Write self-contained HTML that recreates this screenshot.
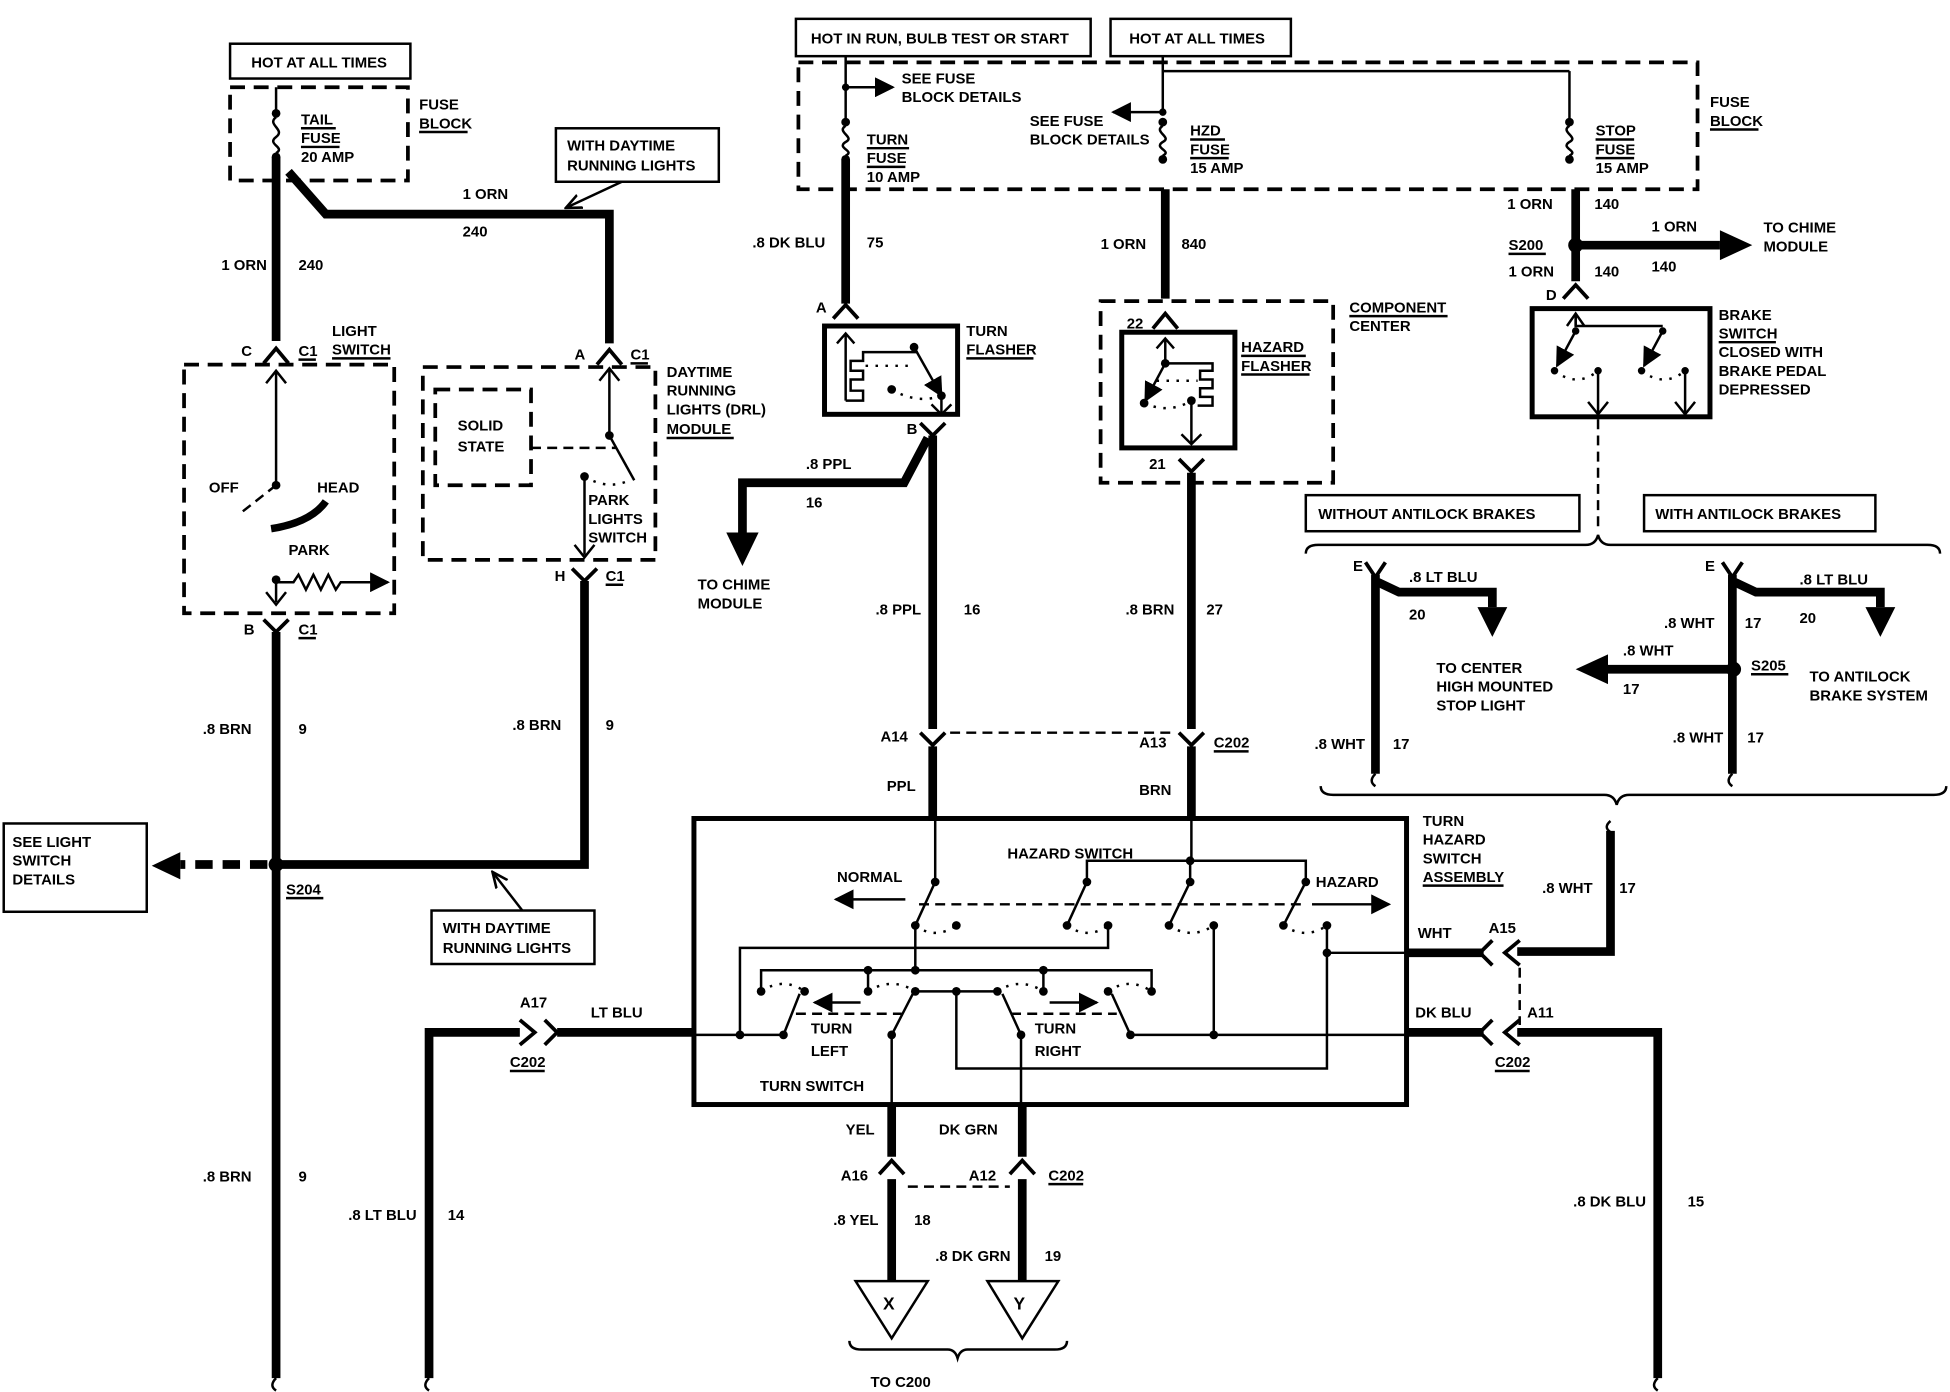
<!DOCTYPE html>
<html><head><meta charset="utf-8"><style>
html,body{margin:0;padding:0;background:#fff}
svg{display:block}
text{font-family:"Liberation Sans",sans-serif;font-weight:bold;font-size:12px;fill:#000}
.k{stroke:#000;fill:none;stroke-width:7}
.n{stroke:#000;fill:none;stroke-width:2}
.m{stroke:#000;fill:none;stroke-width:3}
.d{stroke:#000;fill:none;stroke-width:3;stroke-dasharray:12,7}
.dt{stroke:#000;fill:none;stroke-width:2;stroke-dasharray:2,6}
.dd{stroke:#000;fill:none;stroke-width:2;stroke-dasharray:8,5}
.b{stroke:#000;fill:#fff;stroke-width:2}
.s{stroke:#000;fill:none;stroke-width:4}
</style></head><body>
<svg width="1950" height="1392" viewBox="0 0 1568 1119" xmlns="http://www.w3.org/2000/svg">
<defs>
<marker id="ah" viewBox="0 0 10 10" refX="9" refY="5" markerWidth="8" markerHeight="8" orient="auto-start-reverse"><path d="M0,0 L10,5 L0,10 z" fill="#000"/></marker>
<marker id="ao" viewBox="0 0 10 10" refX="9" refY="5" markerWidth="7" markerHeight="7" orient="auto"><path d="M0,1 L9,5 L0,9" fill="none" stroke="#000" stroke-width="1.5"/></marker>
</defs>
<rect width="1568" height="1119" fill="#fff"/>

<!-- ========== LEFT SECTION ========== -->
<rect class="b" x="185" y="35" width="145" height="28"/>
<text x="202" y="54">HOT AT ALL TIMES</text>
<rect class="d" x="185" y="70" width="143" height="75"/>
<text x="337" y="88">FUSE</text><text x="337" y="103">BLOCK</text>
<line class="n" x1="337" y1="106" x2="376" y2="106"/>
<line class="n" x1="222" y1="70" x2="222" y2="90"/>
<circle cx="222" cy="91" r="3.5"/><circle cx="222" cy="126" r="3.5"/>
<path class="n" d="M222,94 c-8,6 8,10 0,16 c-8,6 8,8 0,13"/>
<text x="242" y="100">TAIL</text><text x="242" y="115">FUSE</text><text x="242" y="130">20 AMP</text>
<line class="n" x1="242" y1="103" x2="270" y2="103"/><line class="n" x1="242" y1="118" x2="273" y2="118"/>
<path class="k" d="M222,126 V274"/>
<path class="k" d="M232,138 L262,172 H490 V276"/>
<rect class="b" x="447" y="103" width="131" height="43"/>
<text x="456" y="121">WITH DAYTIME</text><text x="456" y="137">RUNNING LIGHTS</text>
<line class="n" x1="500" y1="146" x2="455" y2="167" marker-end="url(#ao)"/>
<text x="372" y="160">1 ORN</text><text x="372" y="190">240</text>
<text x="178" y="217">1 ORN</text><text x="240" y="217">240</text>
<!-- connectors C and A -->
<path class="m" d="M212,292 L222,280 L232,292"/>
<text x="194" y="286">C</text><text x="240" y="286">C1</text><line class="n" x1="240" y1="289" x2="254" y2="289"/>
<path class="m" d="M480,293 L490,281 L500,293"/>
<text x="462" y="289">A</text><text x="507" y="289">C1</text><line class="n" x1="507" y1="292" x2="521" y2="292"/>
<!-- light switch -->
<rect class="d" x="148" y="293" width="169" height="200"/>
<text x="267" y="270">LIGHT</text><text x="267" y="285">SWITCH</text><line class="n" x1="267" y1="288" x2="314" y2="288"/>
<line class="n" x1="222" y1="298" x2="222" y2="390"/>
<path class="n" d="M214,308 L222,298 L230,308"/>
<circle cx="222" cy="390" r="3.5"/>
<line class="dd" x1="222" y1="390" x2="194" y2="412"/>
<text x="168" y="396">OFF</text><text x="255" y="396">HEAD</text>
<path d="M218,425 Q250,420 262,403" stroke="#000" stroke-width="6" fill="none"/>
<text x="232" y="446">PARK</text>
<circle cx="222" cy="466" r="3.5"/>
<line class="n" x1="222" y1="466" x2="222" y2="484"/>
<path class="n" d="M214,476 L222,486 L230,476"/>
<path class="n" d="M222,468 H236 l4,-6 l6,12 l6,-12 l6,12 l6,-12 l6,12 l4,-6 H312" marker-end="url(#ah)"/>
<path class="m" d="M212,498 L222,508 L232,498"/>
<text x="196" y="510">B</text><text x="240" y="510">C1</text><line class="n" x1="240" y1="513" x2="254" y2="513"/>
<path class="k" d="M222,508 V1108"/>
<path class="n" d="M222,1108 q-6,6 0,10"/>
<text x="163" y="590">.8 BRN</text><text x="240" y="590">9</text>
<circle cx="222" cy="695" r="6"/>
<line x1="215" y1="695" x2="145" y2="695" stroke="#000" stroke-width="7" stroke-dasharray="14,8"/>
<path d="M145,685 L122,696 L145,707 z" fill="#000"/>
<rect class="b" x="3" y="662" width="115" height="71"/>
<text x="10" y="681">SEE LIGHT</text><text x="10" y="696">SWITCH</text><text x="10" y="711">DETAILS</text>
<text x="230" y="719">S204</text><line class="n" x1="230" y1="722" x2="260" y2="722"/>
<text x="163" y="950">.8 BRN</text><text x="240" y="950">9</text>
<!-- DRL module -->
<rect class="d" x="340" y="295" width="187" height="155"/>
<text x="536" y="303">DAYTIME</text><text x="536" y="318">RUNNING</text><text x="536" y="333">LIGHTS (DRL)</text><text x="536" y="349">MODULE</text>
<line class="n" x1="536" y1="352" x2="590" y2="352"/>
<rect class="d" x="350" y="313" width="77" height="77"/>
<text x="368" y="346">SOLID</text><text x="368" y="363">STATE</text>
<line class="n" x1="490" y1="296" x2="490" y2="350"/>
<path class="n" d="M482,306 L490,296 L498,306"/>
<circle cx="490" cy="350" r="3.5"/>
<line class="n" x1="490" y1="350" x2="510" y2="386"/>
<line class="dd" x1="427" y1="360" x2="496" y2="360"/>
<circle cx="470" cy="383" r="3.5"/>
<path class="dt" d="M470,383 Q490,395 508,385"/>
<text x="473" y="406">PARK</text><text x="473" y="421">LIGHTS</text><text x="473" y="436">SWITCH</text>
<line class="n" x1="470" y1="383" x2="470" y2="446"/>
<path class="n" d="M462,438 L470,448 L478,438"/>
<path class="m" d="M460,457 L470,467 L480,457"/>
<text x="446" y="467">H</text><text x="487" y="467">C1</text><line class="n" x1="487" y1="470" x2="501" y2="470"/>
<path class="k" d="M470,467 V695 H226"/>
<text x="412" y="587">.8 BRN</text><text x="487" y="587">9</text>
<rect class="b" x="347" y="732" width="131" height="43"/>
<text x="356" y="750">WITH DAYTIME</text><text x="356" y="766">RUNNING LIGHTS</text>
<line class="n" x1="420" y1="732" x2="396" y2="701" marker-end="url(#ao)"/>

<!-- ========== TOP MIDDLE ========== -->
<rect class="b" x="640" y="15" width="237" height="30"/>
<text x="652" y="35">HOT IN RUN,  BULB TEST OR START</text>
<rect class="b" x="893" y="15" width="145" height="30"/>
<text x="908" y="35">HOT AT ALL TIMES</text>
<rect class="d" x="642" y="50" width="723" height="102"/>
<text x="1375" y="86">FUSE</text><text x="1375" y="101">BLOCK</text><line class="n" x1="1375" y1="104" x2="1414" y2="104"/>
<!-- turn fuse -->
<line class="n" x1="680" y1="45" x2="680" y2="98"/>
<circle cx="680" cy="70" r="3"/>
<line class="n" x1="680" y1="70" x2="718" y2="70" marker-end="url(#ah)"/>
<text x="725" y="67">SEE FUSE</text><text x="725" y="82">BLOCK DETAILS</text>
<circle cx="680" cy="98" r="3.5"/><circle cx="680" cy="128" r="3.5"/>
<path class="n" d="M680,101 c-8,5 8,9 0,13 c-8,5 8,7 0,11"/>
<text x="697" y="116">TURN</text><text x="697" y="131">FUSE</text><text x="697" y="146">10 AMP</text>
<line class="n" x1="697" y1="119" x2="731" y2="119"/><line class="n" x1="697" y1="134" x2="728" y2="134"/>
<!-- hzd/stop fuse -->
<line class="n" x1="935" y1="45" x2="935" y2="90"/>
<line class="n" x1="935" y1="57" x2="1262" y2="57"/>
<line class="n" x1="1262" y1="57" x2="1262" y2="95"/>
<circle cx="935" cy="90" r="3"/>
<line class="n" x1="935" y1="90" x2="895" y2="90" marker-end="url(#ah)"/>
<text x="828" y="101">SEE FUSE</text><text x="828" y="116">BLOCK DETAILS</text>
<circle cx="935" cy="98" r="3.5"/><circle cx="935" cy="128" r="3.5"/>
<path class="n" d="M935,101 c-8,5 8,9 0,13 c-8,5 8,7 0,11"/>
<text x="957" y="109">HZD</text><text x="957" y="124">FUSE</text><text x="957" y="139">15 AMP</text>
<line class="n" x1="957" y1="112" x2="985" y2="112"/><line class="n" x1="957" y1="127" x2="988" y2="127"/>
<circle cx="1262" cy="98" r="3.5"/><circle cx="1262" cy="128" r="3.5"/>
<path class="n" d="M1262,101 c-8,5 8,9 0,13 c-8,5 8,7 0,11"/>
<text x="1283" y="109">STOP</text><text x="1283" y="124">FUSE</text><text x="1283" y="139">15 AMP</text>
<line class="n" x1="1283" y1="112" x2="1314" y2="112"/><line class="n" x1="1283" y1="127" x2="1314" y2="127"/>

<!-- turn flasher branch -->
<path class="k" d="M680,128 V244"/>
<text x="605" y="199">.8 DK BLU</text><text x="697" y="199">75</text>
<path class="m" d="M670,256 L680,245 L690,256"/>
<text x="656" y="251">A</text>
<rect x="663" y="262" width="107" height="71" fill="none" stroke="#000" stroke-width="4"/>
<text x="777" y="270">TURN</text><text x="777" y="285">FLASHER</text><line class="n" x1="777" y1="288" x2="831" y2="288"/>
<line class="n" x1="680" y1="268" x2="680" y2="322"/><path class="n" d="M673,276 L680,268 L687,276"/>
<path class="n" d="M680,322 H694 V314 H684 V305 H694 V298 H684 V290 H694 V283 H738"/>
<circle cx="735" cy="279" r="3.5"/><circle cx="717" cy="313" r="3.5"/><circle cx="757" cy="318" r="3.5"/>
<line class="n" x1="735" y1="279" x2="757" y2="318" marker-end="url(#ah)"/>
<path class="dt" d="M696,294 H735"/><path class="dt" d="M717,313 Q737,325 757,318"/>
<line class="n" x1="757" y1="318" x2="757" y2="333"/><path class="n" d="M749,325 L757,333 L765,325"/>
<path class="m" d="M740,340 L750,350 L760,340"/>
<text x="729" y="349">B</text>
<path class="k" d="M750,350 V586"/>
<path class="k" d="M746,352 L727,388 H597 V428"/>
<path d="M584,428 L610,428 L597,455 z" fill="#000"/>
<text x="648" y="377">.8 PPL</text><text x="648" y="408">16</text>
<text x="561" y="474">TO CHIME</text><text x="561" y="489">MODULE</text>
<text x="704" y="494">.8 PPL</text><text x="775" y="494">16</text>
<path class="m" d="M740,589 L750,599 L760,589"/>
<text x="708" y="596">A14</text>
<path class="k" d="M750,600 V660"/>
<text x="713" y="636">PPL</text>
<line class="dd" x1="764" y1="589" x2="946" y2="589"/>

<!-- hazard flasher branch -->
<path class="k" d="M937,152 V240"/>
<text x="885" y="200">1 ORN</text><text x="950" y="200">840</text>
<rect class="d" x="885" y="242" width="187" height="146"/>
<text x="1085" y="251">COMPONENT</text><text x="1085" y="266">CENTER</text>
<line class="n" x1="1085" y1="254" x2="1164" y2="254"/>
<path class="m" d="M927,264 L937,252 L947,264"/>
<text x="906" y="264">22</text>
<rect x="902" y="267" width="91" height="93" fill="none" stroke="#000" stroke-width="4"/>
<text x="998" y="283">HAZARD</text><text x="998" y="298">FLASHER</text>
<line class="n" x1="998" y1="286" x2="1050" y2="286"/><line class="n" x1="998" y1="301" x2="1053" y2="301"/>
<line class="n" x1="937" y1="272" x2="937" y2="292"/><path class="n" d="M930,280 L937,272 L944,280"/>
<circle cx="937" cy="292" r="3.5"/><circle cx="920" cy="324" r="3.5"/><circle cx="958" cy="322" r="3.5"/>
<line class="n" x1="937" y1="292" x2="921" y2="322" marker-end="url(#ah)"/>
<path class="n" d="M937,292 H975 V298 H965 V305 H975 V312 H965 V319 H975 V326 H963"/>
<path class="dt" d="M930,306 H963"/><path class="dt" d="M920,324 Q940,333 958,322"/>
<line class="n" x1="958" y1="322" x2="958" y2="357"/><path class="n" d="M950,349 L958,357 L966,349"/>
<path class="m" d="M948,369 L958,379 L968,369"/>
<text x="924" y="377">21</text>
<path class="k" d="M958,380 V586"/>
<text x="905" y="494">.8 BRN</text><text x="970" y="494">27</text>
<path class="m" d="M948,589 L958,599 L968,589"/>
<text x="916" y="601">A13</text><text x="976" y="601">C202</text><line class="n" x1="976" y1="604" x2="1004" y2="604"/>
<path class="k" d="M958,600 V660"/>
<text x="916" y="639">BRN</text>

<!-- stop / brake -->
<path class="k" d="M1267,152 V226"/>
<text x="1212" y="168">1 ORN</text><text x="1282" y="168">140</text>
<circle cx="1267" cy="197" r="6"/>
<text x="1213" y="201">S200</text><line class="n" x1="1213" y1="204" x2="1243" y2="204"/>
<path class="k" d="M1270,197 H1383"/>
<path d="M1383,185 L1409,197 L1383,209 z" fill="#000"/>
<text x="1328" y="186">1 ORN</text><text x="1328" y="218">140</text>
<text x="1418" y="187">TO CHIME</text><text x="1418" y="202">MODULE</text>
<text x="1213" y="222">1 ORN</text><text x="1282" y="222">140</text>
<path class="m" d="M1257,240 L1267,229 L1277,240"/>
<text x="1243" y="241">D</text>
<rect x="1232" y="248" width="143" height="87" fill="none" stroke="#000" stroke-width="4"/>
<text x="1382" y="257">BRAKE</text><text x="1382" y="272">SWITCH</text>
<line class="n" x1="1382" y1="275" x2="1428" y2="275"/>
<text x="1382" y="287">CLOSED WITH</text><text x="1382" y="302">BRAKE PEDAL</text><text x="1382" y="317">DEPRESSED</text>
<path class="n" d="M1267,252 V262 H1337 V262"/>
<path class="n" d="M1267,252 L1267,262"/>
<path class="n" d="M1260,262 L1267,252 L1274,262"/>
<circle cx="1267" cy="266" r="3"/><circle cx="1337" cy="266" r="3"/>
<line class="n" x1="1267" y1="266" x2="1252" y2="294" marker-end="url(#ah)"/>
<line class="n" x1="1337" y1="266" x2="1322" y2="294" marker-end="url(#ah)"/>
<circle cx="1250" cy="298" r="3"/><circle cx="1285" cy="298" r="3"/>
<circle cx="1320" cy="298" r="3"/><circle cx="1355" cy="298" r="3"/>
<path class="dt" d="M1250,298 Q1268,312 1285,298"/><path class="dt" d="M1320,298 Q1338,312 1355,298"/>
<line class="n" x1="1285" y1="298" x2="1285" y2="333"/><line class="n" x1="1355" y1="298" x2="1355" y2="333"/>
<path class="n" d="M1277,323 L1285,333 L1293,323"/><path class="n" d="M1347,323 L1355,333 L1363,323"/>
<line class="dd" x1="1285" y1="337" x2="1285" y2="428"/>
<rect class="b" x="1050" y="398" width="220" height="29"/>
<text x="1060" y="417">WITHOUT ANTILOCK BRAKES</text>
<rect class="b" x="1322" y="398" width="186" height="29"/>
<text x="1331" y="417">WITH ANTILOCK BRAKES</text>
<path class="n" d="M1050,445 q0,-7 10,-7 H1275 q8,0 10,-8 q2,8 10,8 H1550 q10,0 10,7"/>
<path class="n" d="M1062,632 q0,7 10,7 H1290 q8,0 10,8 q2,-8 10,-8 H1555 q10,0 10,-7"/>
<!-- without antilock -->
<path class="m" d="M1098,452 L1106,464 L1114,452"/>
<text x="1088" y="459">E</text>
<path class="k" d="M1106,462 V622"/>
<path class="n" d="M1106,622 q-6,6 0,10"/>
<path class="k" d="M1108,468 L1125,476 H1200 V488"/>
<path d="M1188,488 L1212,488 L1200,512 z" fill="#000"/>
<text x="1133" y="468">.8 LT BLU</text><text x="1133" y="498">20</text>
<text x="1155" y="541">TO CENTER</text><text x="1155" y="556">HIGH MOUNTED</text><text x="1155" y="571">STOP LIGHT</text>
<text x="1057" y="602">.8 WHT</text><text x="1120" y="602">17</text>
<!-- with antilock -->
<path class="m" d="M1385,452 L1393,464 L1401,452"/>
<text x="1371" y="459">E</text>
<path class="k" d="M1393,462 V622"/>
<path class="n" d="M1393,622 q-6,6 0,10"/>
<path class="k" d="M1395,468 L1412,476 H1512 V488"/>
<path d="M1500,488 L1524,488 L1512,512 z" fill="#000"/>
<text x="1447" y="470">.8 LT BLU</text><text x="1447" y="501">20</text>
<text x="1338" y="505">.8 WHT</text><text x="1403" y="505">17</text>
<circle cx="1394" cy="538" r="6"/>
<text x="1408" y="539">S205</text><line class="n" x1="1408" y1="542" x2="1438" y2="542"/>
<path class="k" d="M1392,538 H1293"/>
<path d="M1293,526 L1267,538 L1293,550 z" fill="#000"/>
<text x="1305" y="527">.8 WHT</text><text x="1305" y="558">17</text>
<text x="1455" y="548">TO ANTILOCK</text><text x="1455" y="563">BRAKE SYSTEM</text>
<text x="1345" y="597">.8 WHT</text><text x="1405" y="597">17</text>

<!-- ========== SWITCH ASSEMBLY ========== -->
<path class="n" d="M1295,660 q-6,5 0,9"/>
<path class="k" d="M1295,668 V765 H1220"/>
<text x="1240" y="718">.8 WHT</text><text x="1302" y="718">17</text>
<path class="m" d="M1222,756 L1210,766 L1222,776"/>
<path class="m" d="M1200,756 L1190,766 L1200,776"/>
<text x="1197" y="750">A15</text>
<text x="1140" y="754">WHT</text>
<path class="k" d="M1193,766 H1131"/>
<line class="dd" x1="1222" y1="778" x2="1222" y2="824"/>
<path class="m" d="M1222,820 L1210,830 L1222,840"/>
<path class="m" d="M1200,820 L1190,830 L1200,840"/>
<text x="1228" y="818">A11</text>
<text x="1138" y="818">DK BLU</text>
<text x="1202" y="858">C202</text><line class="n" x1="1202" y1="861" x2="1230" y2="861"/>
<path class="k" d="M1193,830 H1131"/>
<path class="k" d="M1220,830 H1333 V1108"/>
<path class="n" d="M1333,1108 q-6,6 0,10"/>
<text x="1265" y="970">.8 DK BLU</text><text x="1357" y="970">15</text>

<path class="k" d="M345,1108 V830 H418"/>
<path class="n" d="M345,1108 q-6,6 0,10"/>
<path class="m" d="M418,820 L430,830 L418,840"/>
<path class="m" d="M438,820 L448,830 L438,840"/>
<path class="k" d="M448,830 H558"/>
<text x="418" y="810">A17</text><text x="475" y="818">LT BLU</text>
<text x="410" y="858">C202</text><line class="n" x1="410" y1="861" x2="438" y2="861"/>
<text x="280" y="981">.8 LT BLU</text><text x="360" y="981">14</text>

<rect x="558" y="658" width="573" height="230" fill="none" stroke="#000" stroke-width="4"/>
<text x="1144" y="664">TURN</text><text x="1144" y="679">HAZARD</text><text x="1144" y="694">SWITCH</text><text x="1144" y="709">ASSEMBLY</text>
<line class="n" x1="1144" y1="712" x2="1209" y2="712"/>
<text x="810" y="690">HAZARD SWITCH</text>
<text x="673" y="709">NORMAL</text><text x="1058" y="713">HAZARD</text>
<text x="652" y="831">TURN</text><text x="652" y="849">LEFT</text>
<text x="832" y="831">TURN</text><text x="832" y="849">RIGHT</text>
<text x="611" y="877">TURN SWITCH</text>
<line class="n" x1="728" y1="723" x2="672" y2="723" marker-end="url(#ah)"/>
<line class="n" x1="1055" y1="727" x2="1117" y2="727" marker-end="url(#ah)"/>
<g class="n">
<path d="M752,660 V709"/>
<path d="M958,660 V692"/>
<path d="M874,709 V692 H1050 V709"/>
<path d="M957,692 V709"/>
<path d="M752,709 L736,744"/><path d="M874,709 L858,744"/><path d="M957,709 L940,744"/><path d="M1050,709 L1032,744"/>
<path d="M736,744 V780"/>
<path d="M595,832 V762 H891 V744"/>
<path d="M612,797 V780 H926 V797"/>
<path d="M698,780 V797"/><path d="M839,780 V797"/>
<path d="M736,797 H802"/>
<path d="M769,797 V859 H1067 V744"/>
<path d="M1067,766 H1131"/>
<path d="M558,832 H630"/>
<path d="M630,832 L643,799"/>
<path d="M717,887 V832 L734,799"/>
<path d="M821,887 V832 L806,799"/>
<path d="M909,832 L894,799"/>
<path d="M909,832 H1131"/>
<path d="M976,832 V744"/>
</g>
<line class="dd" x1="739" y1="727" x2="1046" y2="727"/>
<line class="dd" x1="640" y1="815" x2="725" y2="815"/>
<line class="dd" x1="813" y1="815" x2="898" y2="815"/>
<line class="n" x1="692" y1="806" x2="655" y2="806" marker-end="url(#ah)"/>
<line class="n" x1="844" y1="806" x2="882" y2="806" marker-end="url(#ah)"/>
<g class="dt">
<path d="M736,744 Q752,756 769,744"/><path d="M858,744 Q875,756 891,744"/>
<path d="M940,744 Q958,756 976,744"/><path d="M1032,744 Q1050,756 1067,744"/>
<path d="M612,797 Q630,785 647,797"/><path d="M698,797 Q717,785 736,797"/>
<path d="M802,797 Q820,785 839,797"/><path d="M891,797 Q908,785 926,797"/>
</g>
<g>
<circle cx="752" cy="709" r="3.5"/><circle cx="874" cy="709" r="3.5"/><circle cx="957" cy="709" r="3.5"/><circle cx="1050" cy="709" r="3.5"/>
<circle cx="957" cy="692" r="3.5"/>
<circle cx="736" cy="744" r="3.5"/><circle cx="769" cy="744" r="3.5"/><circle cx="858" cy="744" r="3.5"/><circle cx="891" cy="744" r="3.5"/>
<circle cx="940" cy="744" r="3.5"/><circle cx="976" cy="744" r="3.5"/><circle cx="1032" cy="744" r="3.5"/><circle cx="1067" cy="744" r="3.5"/>
<circle cx="698" cy="780" r="3.5"/><circle cx="736" cy="780" r="3.5"/><circle cx="839" cy="780" r="3.5"/>
<circle cx="612" cy="797" r="3.5"/><circle cx="647" cy="797" r="3.5"/><circle cx="698" cy="797" r="3.5"/><circle cx="736" cy="797" r="3.5"/>
<circle cx="769" cy="797" r="3.5"/><circle cx="802" cy="797" r="3.5"/><circle cx="839" cy="797" r="3.5"/><circle cx="891" cy="797" r="3.5"/><circle cx="926" cy="797" r="3.5"/>
<circle cx="1067" cy="766" r="3.5"/>
<circle cx="595" cy="832" r="3.5"/><circle cx="630" cy="832" r="3.5"/><circle cx="717" cy="832" r="3.5"/><circle cx="821" cy="832" r="3.5"/>
<circle cx="909" cy="832" r="3.5"/><circle cx="976" cy="832" r="3.5"/>
</g>

<!-- bottom YEL / DK GRN -->
<path class="k" d="M717,888 V930"/><path class="k" d="M822,888 V930"/>
<text x="680" y="912">YEL</text><text x="755" y="912">DK GRN</text>
<path class="m" d="M707,944 L717,933 L727,944"/><path class="m" d="M812,944 L822,933 L832,944"/>
<text x="676" y="949">A16</text><text x="779" y="949">A12</text>
<text x="843" y="949">C202</text><line class="n" x1="843" y1="952" x2="871" y2="952"/>
<line class="dd" x1="730" y1="954" x2="812" y2="954"/>
<path class="k" d="M717,948 V1030"/><path class="k" d="M822,948 V1030"/>
<text x="670" y="985">.8 YEL</text><text x="735" y="985">18</text>
<text x="752" y="1014">.8 DK GRN</text><text x="840" y="1014">19</text>
<path class="b" d="M688,1030 H746 L717,1076 z"/>
<path class="b" d="M794,1030 H851 L822,1076 z"/>
<text x="710" y="1053" style="font-size:14px">X</text>
<text x="815" y="1053" style="font-size:14px">Y</text>
<path class="n" d="M683,1078 q0,7 10,7 H762 q6,0 8,7 q2,-7 8,-7 H848 q10,0 10,-7"/>
<text x="700" y="1115">TO C200</text>
</svg>
</body></html>
